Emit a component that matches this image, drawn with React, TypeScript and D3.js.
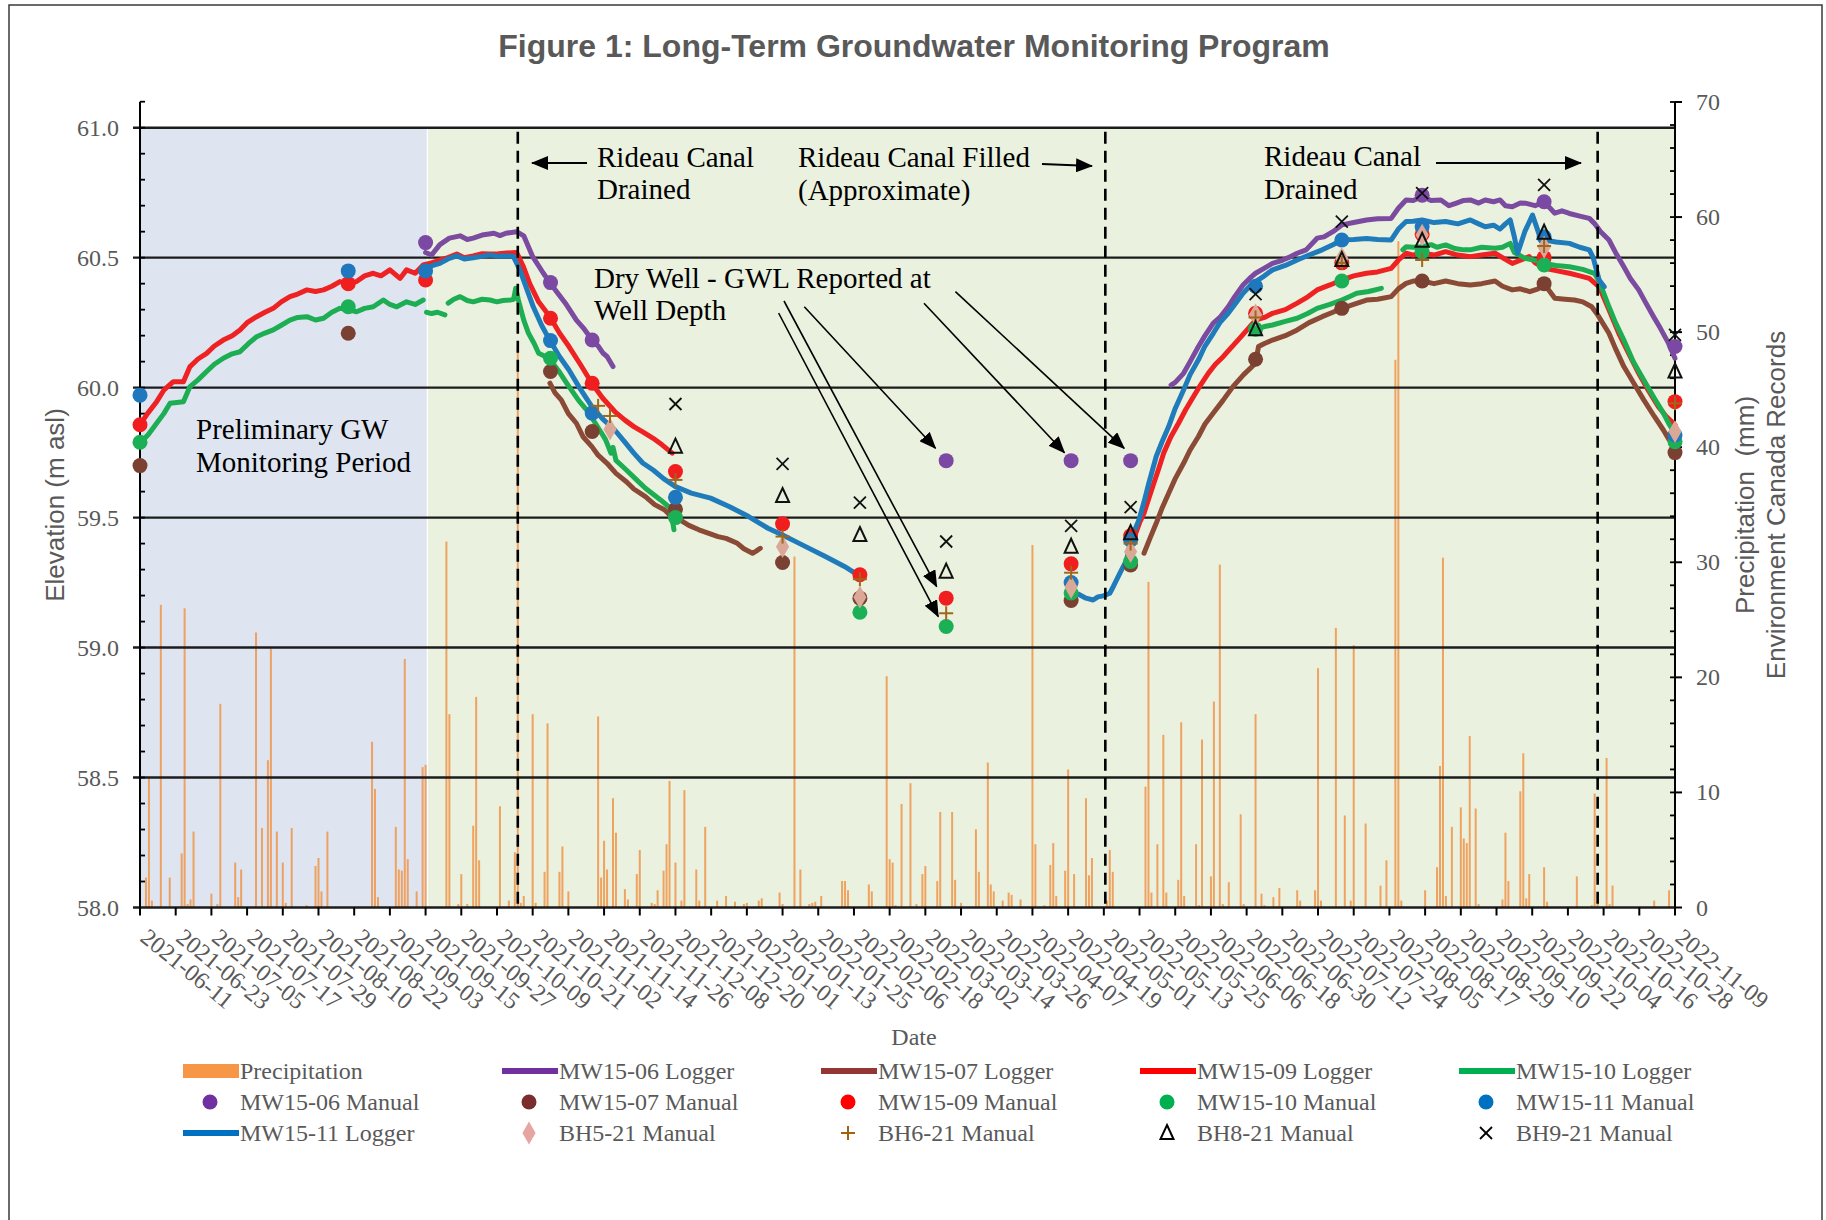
import * as d3 from "d3";

// day 0 = 2021-06-11; every series is [day offset, value]
const START = new Date(2021, 5, 11);
const day = (n: number) => new Date(START.getTime() + n * 86400000);

type Pt = [number, number | null];

const precipitation: [number, number][] = [
  [2, 2.6], [3, 11.2], [4, 0.6], [7, 26.3], [10, 2.6], [14, 4.7], [15, 26.0], [16, 0.3], [17, 0.7], [18, 6.6],
  [24, 1.2], [26, 0.3], [27, 17.7], [32, 3.9], [33, 0.9], [34, 3.3], [39, 23.9], [41, 6.9], [43, 12.8], [44, 22.5],
  [46, 6.6], [48, 3.9], [49, 0.4], [51, 6.9], [56, 0.2], [59, 3.6], [60, 4.3], [61, 1.4], [63, 6.6], [78, 14.4],
  [79, 10.3], [80, 0.9], [86, 7.0], [87, 3.3], [88, 3.2], [89, 21.6], [90, 4.2], [93, 1.4], [95, 12.2], [96, 12.4],
  [103, 31.8], [104, 16.8], [107, 0.3], [108, 2.9], [110, 0.3], [112, 7.1], [113, 18.3], [114, 4.1], [121, 8.8],
  [124, 0.6], [126, 4.8], [127, 48.7], [128, 0.4], [129, 1.0], [132, 16.8], [133, 0.4], [136, 3.1], [137, 16.0],
  [141, 3.1], [142, 5.3], [144, 1.4], [154, 16.6], [155, 2.6], [156, 5.8], [157, 3.3], [159, 9.5], [160, 6.5],
  [163, 1.6], [164, 0.7], [167, 2.9], [168, 5.0], [172, 0.4], [173, 0.3], [174, 1.5], [176, 3.2], [177, 5.5],
  [178, 11.0], [180, 3.9], [182, 0.6], [183, 10.2], [187, 3.3], [188, 0.6], [190, 7.0], [194, 0.6], [197, 1.0],
  [200, 0.5], [203, 0.3], [204, 0.4], [208, 0.6], [209, 0.8], [215, 1.3], [216, 0.3], [220, 30.5], [222, 3.3],
  [225, 0.3], [226, 0.4], [227, 0.5], [229, 1.0], [236, 2.3], [237, 2.3], [238, 1.5], [245, 2.0], [246, 1.4],
  [251, 20.1], [252, 4.2], [253, 3.9], [254, 0.2], [256, 9.0], [259, 10.8], [261, 0.3], [263, 2.9], [264, 3.6],
  [268, 2.3], [269, 8.3], [273, 8.3], [274, 2.4], [276, 0.4], [281, 6.8], [282, 3.1], [285, 12.6], [286, 2.0],
  [287, 1.4], [290, 0.6], [292, 1.3], [293, 1.1], [296, 0.7], [300, 31.5], [301, 5.5], [304, 0.2], [306, 3.7],
  [307, 5.6], [308, 1.0], [311, 3.2], [312, 12.0], [314, 2.9], [318, 9.5], [319, 2.8], [320, 4.3], [325, 0.6],
  [326, 5.0], [327, 3.1], [338, 10.5], [339, 28.3], [340, 1.3], [342, 5.5], [344, 15.0], [345, 1.3], [349, 2.4],
  [350, 16.1], [351, 1.0], [355, 5.5], [356, 0.2], [357, 14.6], [360, 2.7], [361, 17.9], [363, 29.8], [364, 0.3],
  [366, 2.2], [370, 8.1], [371, 0.3], [375, 16.8], [377, 1.2], [378, 0.2], [381, 0.9], [383, 1.7], [389, 1.5],
  [390, 0.6], [395, 1.5], [396, 20.8], [397, 0.6], [402, 24.3], [405, 8.0], [407, 0.6], [408, 22.8], [412, 7.3],
  [417, 1.9], [419, 4.1], [422, 47.6], [423, 57.9], [424, 0.6], [432, 1.5], [436, 3.5], [437, 12.3], [438, 30.4],
  [439, 1.0], [441, 7.0], [444, 8.7], [445, 6.0], [446, 5.6], [447, 14.9], [449, 8.6], [450, 0.3], [458, 0.7],
  [459, 6.5], [460, 2.3], [464, 10.1], [465, 13.4], [466, 0.8], [467, 2.9], [472, 3.5], [473, 0.5], [483, 2.7],
  [488, 0.2], [489, 9.9], [490, 0.6], [493, 13.0], [494, 0.3], [495, 1.9], [509, 0.6], [514, 1.5],
];

const mw1506Logger: Pt[] = [
  [96, 60.52], [98, 60.51], [100.8, 60.55], [104, 60.575], [107.6, 60.584], [110, 60.57], [112, 60.575], [115, 60.587],
  [119, 60.594], [121, 60.585], [123, 60.594], [126.6, 60.6], [129, 60.584], [132, 60.504], [135.6, 60.44], [137.8, 60.404],
  [140, 60.37], [143, 60.325], [146.7, 60.26], [149, 60.23], [152, 60.183], [154, 60.16], [155.7, 60.132], [157, 60.12],
  [159, 60.081], [160, null],
  [346.6, 60.01], [348, 60.02], [350.8, 60.055], [353, 60.1], [355.8, 60.158], [358, 60.2], [360.8, 60.248], [363, 60.27],
  [365.8, 60.311], [368, 60.35], [370.8, 60.395], [373, 60.42], [375, 60.44], [378, 60.46], [380.7, 60.478], [384, 60.49],
  [386, 60.5], [389, 60.517], [392, 60.53], [395.7, 60.575], [398, 60.58], [401, 60.6], [404, 60.626], [408, 60.635],
  [412.3, 60.645], [416, 60.65], [420.6, 60.651], [423, 60.69], [425.6, 60.722], [428, 60.72], [431, 60.735], [434, 60.72],
  [437.3, 60.722], [440, 60.7], [442.3, 60.709], [445, 60.72], [447.2, 60.722], [450, 60.71], [452.2, 60.722], [455, 60.715],
  [457.2, 60.722], [459, 60.7], [461.3, 60.696], [464, 60.71], [466, 60.709], [469, 60.7], [472, 60.715], [475.6, 60.671],
  [478, 60.68], [480.5, 60.67], [484, 60.66], [487.2, 60.651], [488.9, 60.632], [491, 60.6], [493.8, 60.568], [496, 60.52],
  [498.8, 60.465], [501, 60.42], [503.8, 60.376], [506, 60.33], [508.8, 60.273], [511, 60.23], [513.8, 60.171], [516, 60.113],
];

const mw1507Logger: Pt[] = [
  [137.8, 60.017], [139.5, 59.98], [141.6, 59.953], [144, 59.9], [146.7, 59.863], [149, 59.81], [151.9, 59.773], [154, 59.74],
  [157, 59.709], [160, 59.67], [163.5, 59.638], [166, 59.61], [169.9, 59.581], [173, 59.55], [176.3, 59.53], [179, 59.5],
  [181.5, 59.491], [184.5, 59.47], [187.9, 59.453], [191, 59.44], [194.3, 59.427], [197, 59.42], [200.8, 59.401], [203, 59.38],
  [205.9, 59.363], [207, 59.37], [208.5, 59.382], [209, null],
  [337.5, 59.363], [339.5, 59.42], [341.6, 59.478], [343.7, 59.54], [345.8, 59.594], [348, 59.65], [350.8, 59.709], [353, 59.76],
  [355.8, 59.812], [358, 59.86], [360.8, 59.902], [364, 59.95], [367.4, 60.004], [371, 60.05], [375, 60.094], [376, 60.158],
  [378, 60.17], [380.7, 60.183], [385, 60.2], [389, 60.222], [393, 60.25], [397.4, 60.273], [401, 60.29], [404, 60.305],
  [408, 60.32], [412.3, 60.337], [416, 60.34], [420.6, 60.35], [423, 60.38], [425.6, 60.401], [428, 60.41], [431, 60.41],
  [435, 60.4], [438.9, 60.41], [443, 60.4], [447.2, 60.395], [451, 60.4], [455.5, 60.41], [458, 60.39], [461.3, 60.376],
  [464, 60.38], [467.2, 60.369], [470, 60.38], [472, 60.4], [475.6, 60.344], [479, 60.34], [482.2, 60.337], [485, 60.33],
  [488, 60.311], [490, 60.28], [493.8, 60.209], [496, 60.15], [498.8, 60.081], [502, 60.02], [505.5, 59.953], [509, 59.89],
  [512.1, 59.837], [514, 59.8], [516, 59.767],
];

const mw1509Logger: Pt[] = [
  [0, 59.857], [2.5, 59.9], [5.6, 59.946], [8, 59.99], [11.2, 60.023], [14.6, 60.023], [16.8, 60.081], [19.5, 60.11],
  [22.4, 60.132], [25, 60.16], [28, 60.183], [31, 60.2], [33.6, 60.222], [36, 60.25], [39.2, 60.273], [42, 60.29],
  [44.8, 60.305], [47.5, 60.33], [50.4, 60.35], [53, 60.36], [56.1, 60.376], [59, 60.37], [61.7, 60.376], [64.5, 60.39],
  [67.2, 60.408], [70, 60.4], [72.8, 60.408], [75.5, 60.43], [78.4, 60.44], [81, 60.43], [84, 60.453], [87.4, 60.42],
  [89.6, 60.453], [92.5, 60.44], [95.2, 60.472], [98, 60.48], [100.8, 60.491], [103.5, 60.5], [106.5, 60.514], [109, 60.5],
  [112, 60.507], [115, 60.515], [117.6, 60.514], [120.5, 60.515], [123.3, 60.518], [126.6, 60.52], [128.9, 60.465], [131, 60.4],
  [134, 60.33], [137.8, 60.273], [141, 60.21], [144.2, 60.158], [148, 60.09], [151.9, 60.017], [155.5, 59.96], [159.6, 59.908],
  [163, 59.875], [166, 59.85], [169, 59.83], [172.5, 59.805], [175.5, 59.78], [178.9, 59.748], [180, null],
  [333.9, 59.414], [336, 59.48], [337.5, 59.517], [339, 59.57], [340.8, 59.632], [342.5, 59.69], [344.1, 59.748], [346.5, 59.81],
  [349.1, 59.863], [351.5, 59.915], [354.1, 59.965], [356.5, 60.01], [359.1, 60.055], [361.5, 60.09], [364.1, 60.119], [366.5, 60.15],
  [369.1, 60.183], [372, 60.22], [375, 60.26], [378, 60.27], [380.7, 60.286], [385, 60.3], [389, 60.325], [392, 60.345],
  [395.7, 60.376], [400, 60.395], [404, 60.414], [408, 60.43], [412.3, 60.44], [416, 60.445], [420.6, 60.459], [423, 60.49],
  [425.6, 60.517], [428, 60.51], [431, 60.517], [435, 60.51], [438.9, 60.523], [443, 60.51], [447.2, 60.504], [451, 60.51],
  [455.5, 60.517], [458, 60.5], [461.3, 60.478], [464, 60.49], [467, 60.504], [469, 60.48], [472.2, 60.459], [476, 60.45],
  [480.5, 60.44], [484, 60.43], [487.2, 60.42], [490.5, 60.388], [493.8, 60.3], [497.1, 60.209], [500.5, 60.13], [503.8, 60.055],
  [507, 59.99], [510.4, 59.927], [513, 59.89], [516, 59.857],
];

const mw1510Logger: Pt[] = [
  [0, 59.786], [2.8, 59.82], [5.6, 59.863], [8, 59.9], [10.1, 59.94], [14.6, 59.946], [16.8, 60.004], [19.5, 60.03],
  [22.4, 60.062], [25, 60.09], [28, 60.113], [31, 60.13], [33.6, 60.138], [36.5, 60.17], [39.2, 60.196], [42, 60.21],
  [44.8, 60.222], [47.5, 60.24], [50.4, 60.26], [53, 60.27], [56.1, 60.273], [59, 60.26], [61.7, 60.267], [64.5, 60.29],
  [67.2, 60.305], [70, 60.3], [72.8, 60.292], [75.5, 60.305], [78.4, 60.311], [81.8, 60.337], [84, 60.32], [86.3, 60.311],
  [89.6, 60.33], [92.5, 60.32], [95.2, 60.337], [95.8, null],
  [96.3, 60.29], [98, 60.285], [100, 60.29], [102.5, 60.28], [103, null],
  [103.6, 60.325], [105.5, 60.34], [107.6, 60.35], [110, 60.335], [112, 60.33], [115, 60.34], [117.6, 60.337], [120, 60.33],
  [122, 60.335], [124.4, 60.337], [125.6, 60.34], [126.3, 60.382], [127.2, 60.337], [129, 60.26], [130.6, 60.209], [132.5, 60.17],
  [134, 60.132], [137.5, 60.113], [141, 60.06], [144.2, 60.004], [147.5, 59.95], [150.6, 59.908], [154.5, 59.837], [156.5, 59.8],
  [158.3, 59.748], [159, 59.77], [160, 59.72], [163.5, 59.683], [166.5, 59.65], [169.9, 59.613], [172.5, 59.59], [175, 59.568],
  [178.3, 59.536], [179.5, 59.453], [180, null],
  [375, 60.225], [378, 60.235], [380.7, 60.241], [385, 60.255], [389, 60.267], [392.5, 60.285], [395.7, 60.305], [400, 60.32],
  [404, 60.337], [406.5, 60.35], [409, 60.363], [413, 60.37], [417.3, 60.382], [418, null],
  [424.5, 60.53], [425.6, 60.542], [428, 60.54], [431, 60.542], [434, 60.55], [436, 60.54], [438.9, 60.549], [442, 60.535],
  [445, 60.53], [447.2, 60.53], [451, 60.54], [455.5, 60.536], [458, 60.54], [460.6, 60.555], [462, 60.52], [465.5, 60.498],
  [469, 60.49], [472, 60.478], [476, 60.47], [480.5, 60.465], [485, 60.455], [488.9, 60.44], [490.5, 60.41], [493.8, 60.311],
  [496, 60.25], [498.8, 60.183], [502, 60.1], [505.5, 60.029], [509, 59.96], [512.1, 59.902], [514, 59.86], [516, 59.825],
];

const mw1511Logger: Pt[] = [
  [96, 60.459], [98.5, 60.47], [100.8, 60.478], [103.5, 60.495], [106.5, 60.507], [109, 60.495], [112, 60.5], [115, 60.505],
  [117.6, 60.51], [120.5, 60.505], [123.3, 60.507], [125.5, 60.505], [127.7, 60.453], [130, 60.38], [132.2, 60.311], [135, 60.24],
  [137.8, 60.181], [141, 60.12], [144.2, 60.068], [148, 59.995], [151.9, 59.927], [155.5, 59.88], [159.6, 59.837], [163, 59.79],
  [166, 59.748], [169, 59.71], [172.5, 59.683], [176, 59.65], [180, 59.619], [185.3, 59.594], [191.8, 59.575], [198.2, 59.542],
  [204.6, 59.504], [211.1, 59.459], [216, 59.433], [222.6, 59.395], [230.4, 59.35], [236.8, 59.312], [241.3, 59.28], [242, null],
  [313.7, 59.209], [315.5, 59.205], [318, 59.19], [320.4, 59.183], [322, 59.195], [323.8, 59.199], [326, 59.209], [327.2, 59.235],
  [329.4, 59.286], [331.7, 59.337], [333, 59.414], [335.8, 59.491], [337.5, 59.56], [339.1, 59.632], [341.6, 59.735], [343.5, 59.79],
  [345.8, 59.85], [348, 59.92], [350.8, 59.991], [353, 60.05], [355.8, 60.107], [358, 60.16], [360.8, 60.209], [363, 60.25],
  [365.8, 60.286], [368, 60.32], [370.8, 60.363], [373, 60.39], [375, 60.408], [378, 60.43], [380.7, 60.453], [385, 60.47],
  [389, 60.491], [393, 60.51], [397.4, 60.53], [401, 60.55], [404, 60.568], [408, 60.57], [412.3, 60.574], [416, 60.57],
  [420.6, 60.568], [423, 60.61], [425.6, 60.639], [428, 60.64], [431, 60.645], [435, 60.635], [438.9, 60.639], [443, 60.63],
  [447.2, 60.645], [450, 60.63], [452.2, 60.619], [455, 60.625], [457.2, 60.61], [459, 60.63], [460.6, 60.645], [462, 60.58],
  [463.1, 60.517], [465.5, 60.6], [468.1, 60.664], [470.6, 60.58], [472.2, 60.568], [476, 60.56], [480.5, 60.555], [484, 60.54],
  [487.2, 60.53], [488.5, 60.5], [490.5, 60.414], [492.2, 60.388],
];

const mw1506Manual: [number, number][] = [[96, 60.558], [138, 60.404], [152, 60.183], [271, 59.719], [313, 59.719], [333, 59.719], [431, 60.74], [472, 60.715], [516, 60.158]];
const mw1507Manual: [number, number][] = [[0, 59.7], [70, 60.209], [138, 60.062], [152, 59.831], [180, 59.532], [216, 59.327], [242, 59.19], [313, 59.181], [333, 59.318], [375, 60.109], [404, 60.305], [431, 60.41], [472, 60.4], [516, 59.75]];
const mw1509Manual: [number, number][] = [[0, 59.857], [70, 60.4], [96, 60.414], [138, 60.267], [152, 60.017], [180, 59.677], [216, 59.476], [242, 59.28], [271, 59.19], [313, 59.322], [333, 59.43], [375, 60.286], [404, 60.48], [431, 60.59], [472, 60.5], [516, 59.946]];
const mw1510Manual: [number, number][] = [[0, 59.79], [70, 60.311], [138, 60.113], [180, 59.5], [242, 59.136], [271, 59.081], [313, 59.21], [333, 59.331], [375, 60.225], [404, 60.41], [431, 60.523], [472, 60.472], [516, 59.792]];
const mw1511Manual: [number, number][] = [[0, 59.971], [70, 60.449], [96, 60.449], [138, 60.181], [152, 59.902], [180, 59.578], [313, 59.25], [333, 59.414], [375, 60.39], [404, 60.568], [431, 60.619], [472, 60.58], [516, 59.818]];
const bh5Manual: [number, number][] = [[158, 59.84], [216, 59.388], [242, 59.194], [313, 59.232], [333, 59.369], [375, 60.28], [404, 60.497], [431, 60.587], [472, 60.54], [516, 59.831]];
const bh6Manual: [number, number][] = [[154, 59.93], [158, 59.891], [180, 59.645], [216, 59.427], [242, 59.263], [271, 59.132], [313, 59.288], [333, 59.4], [375, 60.27], [404, 60.48], [431, 60.491], [472, 60.545], [516, 59.94]];
const bh8Manual: [number, number][] = [[180, 59.773], [216, 59.583], [242, 59.433], [271, 59.292], [313, 59.388], [333, 59.44], [375, 60.225], [404, 60.491], [431, 60.565], [472, 60.596], [516, 60.062]];
const bh9Manual: [number, number][] = [[180, 59.937], [216, 59.707], [242, 59.558], [271, 59.408], [313, 59.468], [333, 59.54], [375, 60.36], [404, 60.639], [431, 60.748], [472, 60.78], [516, 60.203]];

const leftTicks = [58.0, 58.5, 59.0, 59.5, 60.0, 60.5, 61.0];
const rightTicks = [0, 10, 20, 30, 40, 50, 60, 70];
const canalDays = [127, 324.5, 490]; // dashed markers
const prelimEnd = 96.6;

const SERIF = "'Liberation Serif', 'Times New Roman', serif";
const SANS = "'Liberation Sans', Arial, sans-serif";
const GRAY = "#595959";

type Kind = "circle" | "diamond" | "plus" | "triangle" | "cross";

function Marker({ kind, color, cx, cy }: { kind: Kind; color: string; cx: number; cy: number }) {
  if (kind === "circle") return <circle cx={cx} cy={cy} r={7.5} fill={color} />;
  if (kind === "diamond")
    return <path transform={`translate(${cx},${cy})`} d={d3.symbol(d3.symbolDiamond, 150)() || ""} fill={color} />;
  if (kind === "triangle")
    return <path transform={`translate(${cx},${cy})`} d="M0,-8 L6.5,6 L-6.5,6 Z" fill="none" stroke={color} strokeWidth={2} />;
  if (kind === "plus")
    return (
      <g stroke={color} strokeWidth={2}>
        <line x1={cx - 7} x2={cx + 7} y1={cy} y2={cy} />
        <line x1={cx} x2={cx} y1={cy - 7} y2={cy + 7} />
      </g>
    );
  return (
    <g stroke={color} strokeWidth={1.8}>
      <line x1={cx - 6} x2={cx + 6} y1={cy - 6} y2={cy + 6} />
      <line x1={cx - 6} x2={cx + 6} y1={cy + 6} y2={cy - 6} />
    </g>
  );
}

export default function App() {
  const x = d3.scaleTime().domain([day(0), day(516)]).range([140, 1675]);
  const y = d3.scaleLinear().domain([58, 61.1]).range([907.5, 101.7]);
  const y2 = d3.scaleLinear().domain([0, 70]).range([907.5, 102]);
  const fmt = d3.timeFormat("%Y-%m-%d");
  const xTicks = d3.range(0, 517, 12).map(day);
  const minorLeft = d3.range(58.1, 61.15, 0.1);
  const minorRight = d3.range(2, 71, 2);

  const line = d3
    .line<Pt>()
    .defined((d) => d[1] != null)
    .x((d) => x(day(d[0])))
    .y((d) => y(d[1] as number));

  const loggers = [
    { data: mw1506Logger, color: "#7A4B9F" },
    { data: mw1507Logger, color: "#8B4A35" },
    { data: mw1509Logger, color: "#EE2222" },
    { data: mw1510Logger, color: "#1DAD52" },
    { data: mw1511Logger, color: "#1F7BBA" },
  ];

  const manuals: { data: [number, number][]; kind: Kind; color: string }[] = [
    { data: mw1506Manual, kind: "circle", color: "#7B48A3" },
    { data: mw1507Manual, kind: "circle", color: "#7A4032" },
    { data: mw1509Manual, kind: "circle", color: "#F01E1E" },
    { data: mw1510Manual, kind: "circle", color: "#1BB055" },
    { data: mw1511Manual, kind: "circle", color: "#1F78BD" },
    { data: bh5Manual, kind: "diamond", color: "#DBA898" },
    { data: bh6Manual, kind: "plus", color: "#A0661A" },
    { data: bh8Manual, kind: "triangle", color: "#111" },
    { data: bh9Manual, kind: "cross", color: "#111" },
  ];

  const legendCols = [183, 502, 821, 1140, 1459];
  const legendRows = [1071, 1102, 1133];
  const legend: { label: string; type: "bar" | "line" | Kind; color: string }[] = [
    { label: "Precipitation", type: "bar", color: "#F79646" },
    { label: "MW15-06 Logger", type: "line", color: "#7030A0" },
    { label: "MW15-07 Logger", type: "line", color: "#943634" },
    { label: "MW15-09 Logger", type: "line", color: "#FF0000" },
    { label: "MW15-10 Logger", type: "line", color: "#00B050" },
    { label: "MW15-06 Manual", type: "circle", color: "#7030A0" },
    { label: "MW15-07 Manual", type: "circle", color: "#7B2C2C" },
    { label: "MW15-09 Manual", type: "circle", color: "#FF0000" },
    { label: "MW15-10 Manual", type: "circle", color: "#00B050" },
    { label: "MW15-11 Manual", type: "circle", color: "#0070C0" },
    { label: "MW15-11 Logger", type: "line", color: "#0070C0" },
    { label: "BH5-21 Manual", type: "diamond", color: "#E6A5A0" },
    { label: "BH6-21 Manual", type: "plus", color: "#A0620A" },
    { label: "BH8-21 Manual", type: "triangle", color: "#000" },
    { label: "BH9-21 Manual", type: "cross", color: "#000" },
  ];

  const gridTop = y(61);
  const plotBottom = y(58);

  const diagArrows = [
    [784, 301, 936.7, 586.7],
    [778.6, 313, 938.3, 616.7],
    [804.3, 306.7, 935.5, 448.3],
    [924, 303.3, 1064.5, 452.7],
    [955.4, 291.7, 1124.2, 448.3],
  ];

  return (
    <svg
      width={1826}
      height={1220}
      style={{ position: "fixed", left: 0, top: 0, background: "#fff" }}
    >
      <defs>
        <marker id="ah" markerUnits="userSpaceOnUse" markerWidth={17} markerHeight={14} refX={16} refY={7} orient="auto">
          <path d="M0,0 L17,7 L0,14 Z" fill="#000" />
        </marker>
      </defs>
      <rect x={9} y={5} width={1813} height={1230} fill="#fff" stroke="#3a3a3a" strokeWidth={1.5} />

      <text x={914} y={57} textAnchor="middle" fontFamily={SANS} fontWeight="bold" fontSize={32} fill={GRAY}>
        Figure 1: Long-Term Groundwater Monitoring Program
      </text>

      {/* shading */}
      <rect x={x(day(0))} y={gridTop} width={x(day(prelimEnd)) - x(day(0))} height={plotBottom - gridTop} fill="#DEE5F1" />
      <rect x={x(day(prelimEnd))} y={gridTop} width={x(day(516)) - x(day(prelimEnd))} height={plotBottom - gridTop} fill="#EBF1DF" />
      <line x1={x(day(prelimEnd))} x2={x(day(prelimEnd))} y1={gridTop} y2={plotBottom} stroke="#fff" strokeWidth={1.2} />

      {/* precipitation bars */}
      {precipitation.map(([d, v], i) => (
        <rect key={i} x={x(day(d)) - 1} y={y2(v)} width={2} height={y2(0) - y2(v)} fill="#F0954A" opacity={0.85} />
      ))}

      {/* gridlines */}
      {leftTicks.map((t) => (
        <line key={t} x1={133} x2={1675} y1={y(t)} y2={y(t)} stroke="#1c1c1c" strokeWidth={2.4} />
      ))}

      {/* left axis */}
      <line x1={140} x2={140} y1={y(61.1)} y2={plotBottom} stroke="#000" strokeWidth={2} />
      {minorLeft.map((t, i) => (
        <line key={i} x1={140} x2={145} y1={y(t)} y2={y(t)} stroke="#000" strokeWidth={1.8} />
      ))}
      {leftTicks.map((t) => (
        <text key={t} x={119} y={y(t) + 8} textAnchor="end" fontFamily={SERIF} fontSize={24} fill={GRAY}>
          {t.toFixed(1)}
        </text>
      ))}

      {/* right axis */}
      <line x1={1675} x2={1675} y1={y2(70)} y2={plotBottom} stroke="#000" strokeWidth={2} />
      {minorRight.map((t) => (
        <line key={t} x1={1670} x2={1675} y1={y2(t)} y2={y2(t)} stroke="#000" strokeWidth={1.8} />
      ))}
      {rightTicks.map((t) => (
        <g key={t}>
          <line x1={1675} x2={1682} y1={y2(t)} y2={y2(t)} stroke="#000" strokeWidth={2} />
          <text x={1696} y={y2(t) + 8} fontFamily={SERIF} fontSize={24} fill={GRAY}>
            {t}
          </text>
        </g>
      ))}

      {/* x axis */}
      {xTicks.map((t, i) => (
        <g key={i}>
          <line x1={x(t)} x2={x(t)} y1={plotBottom} y2={plotBottom + 8} stroke="#000" strokeWidth={2} />
          <text
            transform={`translate(${x(t) - 1},${940}) rotate(39)`}
            fontFamily={SERIF}
            fontSize={24}
            fill={GRAY}
          >
            {fmt(t)}
          </text>
        </g>
      ))}
      <text x={914} y={1045} textAnchor="middle" fontFamily={SERIF} fontSize={24} fill={GRAY}>
        Date
      </text>

      {/* axis titles */}
      <text transform="translate(64,505) rotate(-90)" textAnchor="middle" fontFamily={SANS} fontSize={26} fill={GRAY}>
        Elevation (m asl)
      </text>
      <text transform="translate(1754,505) rotate(-90)" textAnchor="middle" fontFamily={SANS} fontSize={26} fill={GRAY} xmlSpace="preserve">
        Precipitation  (mm)
      </text>
      <text transform="translate(1785,505) rotate(-90)" textAnchor="middle" fontFamily={SANS} fontSize={26} fill={GRAY}>
        Environment Canada Records
      </text>

      {/* logger lines */}
      {loggers.map((s, i) => (
        <path key={i} d={line(s.data) || ""} fill="none" stroke={s.color} strokeWidth={5} strokeLinejoin="round" strokeLinecap="round" />
      ))}

      {/* manual readings */}
      {manuals.map((s, i) => (
        <g key={i}>
          {s.data.map(([d, v], j) => (
            <Marker key={j} kind={s.kind} color={s.color} cx={x(day(d))} cy={y(v)} />
          ))}
        </g>
      ))}

      {/* canal markers */}
      {canalDays.map((d) => (
        <line key={d} x1={x(day(d))} x2={x(day(d))} y1={gridTop + 4} y2={plotBottom} stroke="#000" strokeWidth={2.6} strokeDasharray="12,7" />
      ))}

      {/* annotations */}
      <g fontFamily={SERIF} fontSize={29} fill="#000">
        <text x={597} y={167}>Rideau Canal</text>
        <text x={597} y={199}>Drained</text>
        <text x={798} y={167}>Rideau Canal Filled</text>
        <text x={798} y={200}>(Approximate)</text>
        <text x={1264} y={166}>Rideau Canal</text>
        <text x={1264} y={199}>Drained</text>
        <text x={594} y={288}>Dry Well - GWL Reported at</text>
        <text x={594} y={320}>Well Depth</text>
        <text x={196} y={439}>Preliminary GW</text>
        <text x={196} y={472}>Monitoring Period</text>
      </g>
      <g stroke="#000" strokeWidth={2.2}>
        <line x1={587} y1={163} x2={532} y2={163} markerEnd="url(#ah)" />
        <line x1={1042} y1={164} x2={1092} y2={166} markerEnd="url(#ah)" />
        <line x1={1436} y1={163} x2={1581} y2={163} markerEnd="url(#ah)" />
      </g>
      <g stroke="#000" strokeWidth={1.6}>
        {diagArrows.map((a, i) => (
          <line key={i} x1={a[0]} y1={a[1]} x2={a[2]} y2={a[3]} markerEnd="url(#ah)" />
        ))}
      </g>

      {/* legend */}
      {legend.map((l, i) => {
        const cx = legendCols[i % 5];
        const cy = legendRows[Math.floor(i / 5)];
        return (
          <g key={l.label}>
            {l.type === "bar" && <rect x={cx} y={cy - 7} width={56} height={14} fill={l.color} />}
            {l.type === "line" && <line x1={cx} x2={cx + 56} y1={cy} y2={cy} stroke={l.color} strokeWidth={6} />}
            {l.type !== "bar" && l.type !== "line" && <Marker kind={l.type as Kind} color={l.color} cx={cx + 27} cy={cy} />}
            <text x={cx + 57} y={cy + 8} fontFamily={SERIF} fontSize={24} fill={GRAY}>
              {l.label}
            </text>
          </g>
        );
      })}
    </svg>
  );
}
